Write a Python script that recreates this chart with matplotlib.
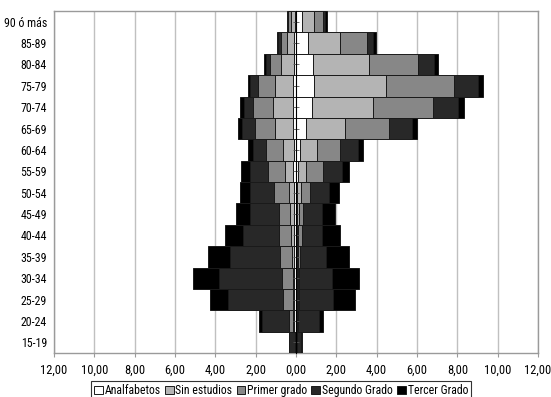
import matplotlib
matplotlib.use("Agg")
import matplotlib.pyplot as plt
import numpy as np

plt.rcParams["font.family"] = ["Roboto Condensed", "Liberation Sans", "DejaVu Sans"]

# Age groups, youngest first
ages = ["15-19", "20-24", "25-29", "30-34", "35-39", "40-44", "45-49", "50-54",
        "55-59", "60-64", "65-69", "70-74", "75-79", "80-84", "85-89", "90 ó más"]

series = ["Analfabetos", "Sin estudios", "Primer grado", "Segundo Grado", "Tercer Grado"]
colors = ["#ffffff", "#b4b4b4", "#878787", "#282828", "#000000"]

# Left half (percent of population)
left_analfabetos = [0.01, 0.08, 0.12, 0.10, 0.12, 0.12, 0.12, 0.12, 0.13, 0.12, 0.17, 0.17, 0.17, 0.12, 0.12, 0.07]
left_sin_estudios = [0.02, 0.05, 0.05, 0.07, 0.10, 0.13, 0.18, 0.21, 0.42, 0.54, 0.87, 0.97, 0.87, 0.64, 0.33, 0.19]
left_primer = [0.03, 0.24, 0.46, 0.52, 0.56, 0.58, 0.56, 0.78, 0.82, 0.81, 1.01, 0.97, 0.84, 0.53, 0.30, 0.12]
left_segundo = [0.29, 1.31, 2.76, 3.11, 2.47, 1.78, 1.42, 1.17, 0.93, 0.64, 0.61, 0.45, 0.40, 0.21, 0.12, 0.03]
left_tercer = [0.02, 0.17, 0.87, 1.32, 1.13, 0.89, 0.69, 0.51, 0.41, 0.25, 0.23, 0.20, 0.12, 0.10, 0.09, 0.06]

# Right half (percent of population)
right_analfabetos = [0.01, 0.03, 0.03, 0.03, 0.03, 0.03, 0.03, 0.05, 0.11, 0.20, 0.49, 0.77, 0.89, 0.82, 0.58, 0.28]
right_sin_estudios = [0.01, 0.04, 0.05, 0.05, 0.07, 0.08, 0.10, 0.20, 0.38, 0.84, 1.94, 3.04, 3.57, 2.82, 1.58, 0.61]
right_primer = [0.02, 0.05, 0.08, 0.08, 0.10, 0.17, 0.23, 0.46, 0.83, 1.12, 2.16, 2.99, 3.38, 2.43, 1.34, 0.46]
right_segundo = [0.22, 1.00, 1.65, 1.62, 1.29, 1.01, 0.93, 0.94, 0.96, 0.89, 1.15, 1.25, 1.19, 0.78, 0.33, 0.10]
right_tercer = [0.02, 0.23, 1.13, 1.35, 1.15, 0.90, 0.66, 0.46, 0.36, 0.27, 0.28, 0.28, 0.23, 0.18, 0.13, 0.08]

left = [left_analfabetos, left_sin_estudios, left_primer, left_segundo, left_tercer]
right = [right_analfabetos, right_sin_estudios, right_primer, right_segundo, right_tercer]

fig = plt.figure(figsize=(5.51, 3.97), dpi=100)
ax = fig.add_axes([54 / 551, 1 - 353 / 397, (538 - 54) / 551, (353 - 11) / 397])

y = np.arange(len(ages))
base_l = np.zeros(len(ages))
base_r = np.zeros(len(ages))
for name, col, lv, rv in zip(series, colors, left, right):
    lv = np.array(lv)
    rv = np.array(rv)
    ax.barh(y, -lv, left=-base_l, height=1.0, color=col, edgecolor="#1a1a1a",
            linewidth=0.7, label=name, zorder=3)
    ax.barh(y, rv, left=base_r, height=1.0, color=col, edgecolor="#1a1a1a",
            linewidth=0.7, zorder=3)
    base_l += lv
    base_r += rv

ax.set_xlim(-12, 12)
ax.set_ylim(-0.5, len(ages) - 0.5)
xt = np.arange(-12, 13, 2)
ax.set_xticks(xt)
ax.set_xticklabels([f"{abs(v):.2f}".replace(".", ",") for v in xt], fontsize=9)
ax.set_yticks(y)
ax.set_yticklabels(ages, fontsize=8.6)
ax.tick_params(axis="y", length=0, pad=5)
ax.tick_params(axis="x", length=3, width=0.8, color="#9a9a9a", pad=5, direction="out")
ax.xaxis.grid(True, color="#c0c0c0", linewidth=1.0, zorder=0)
ax.set_axisbelow(True)
for s in ax.spines.values():
    s.set_color("#9a9a9a")
    s.set_linewidth(1.0)

# Vertical axis at zero with small cross ticks
ax2 = ax.twinx()
ax2.set_ylim(ax.get_ylim())
ax2.set_yticks(y)
ax2.set_yticklabels([])
for k in ("top", "bottom", "left"):
    ax2.spines[k].set_visible(False)
ax2.spines["right"].set_position(("data", 0))
ax2.spines["right"].set_color("#000000")
ax2.spines["right"].set_linewidth(0.8)
ax2.tick_params(axis="y", direction="inout", length=4, width=0.6, color="#555555")

handles, labels = ax.get_legend_handles_labels()
leg = fig.legend(handles, labels, loc="upper left", bbox_to_anchor=(91 / 551, 1 - 381 / 397),
                 ncol=5, fontsize=8.5, frameon=True, fancybox=False, edgecolor="#000000",
                 handlelength=0.75, handleheight=0.75, handletextpad=0.15,
                 columnspacing=0.35, borderpad=0.25, borderaxespad=0)
leg.get_frame().set_linewidth(0.8)

fig.savefig("out.png", dpi=100)
